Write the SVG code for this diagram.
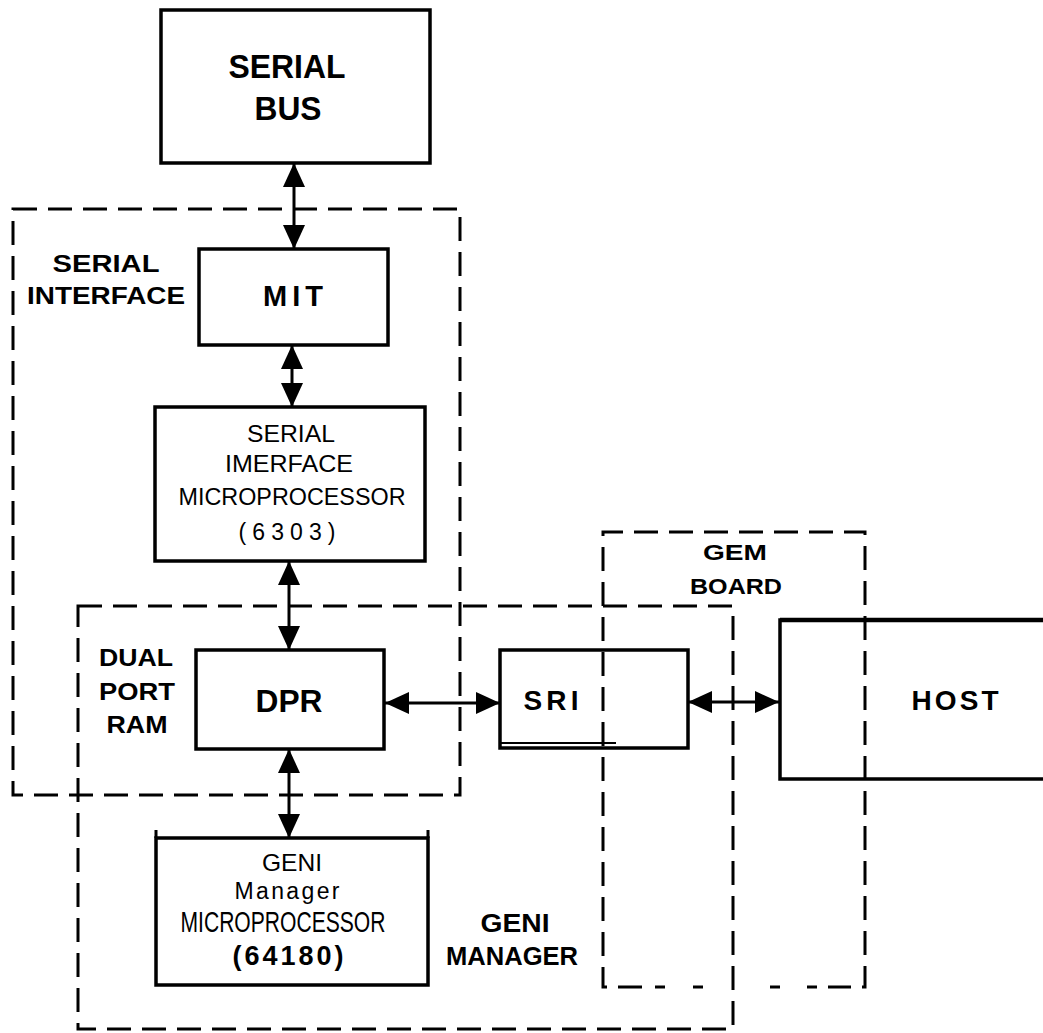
<svg xmlns="http://www.w3.org/2000/svg" width="1043" height="1033" viewBox="0 0 1043 1033">
<defs>
<style>
.box{fill:none;stroke:#000;stroke-width:3.5}
.grp{fill:none;stroke:#000;stroke-width:3;stroke-dasharray:24 11}
.conn{fill:none;stroke:#000;stroke-width:3}
.b{font-family:"Liberation Sans",Arial,sans-serif;font-weight:bold;fill:#000;text-anchor:middle}
.r{font-family:"Liberation Sans",Arial,sans-serif;fill:#000;text-anchor:middle}
</style>
<marker id="ah" viewBox="0 0 24 22" refX="24" refY="11" markerWidth="24" markerHeight="22" markerUnits="userSpaceOnUse" orient="auto-start-reverse">
<path d="M0,0 L24,11 L0,22 Z" fill="#000"/>
</marker>
</defs>
<rect width="1043" height="1033" fill="#fff"/>

<g id="group-serial-interface">
<rect class="grp" x="13" y="209" width="447" height="586"/>
<text class="b" x="106" y="272" font-size="23" textLength="107" lengthAdjust="spacingAndGlyphs">SERIAL</text>
<text class="b" x="106" y="304" font-size="23" textLength="158" lengthAdjust="spacingAndGlyphs">INTERFACE</text>
</g>

<g id="group-geni-manager">
<rect class="grp" x="78" y="606" width="655" height="423"/>
<text class="b" x="515" y="932" font-size="26" textLength="69" lengthAdjust="spacingAndGlyphs">GENI</text>
<text class="b" x="512" y="965" font-size="26" textLength="132" lengthAdjust="spacingAndGlyphs">MANAGER</text>
</g>

<g id="group-gem-board">
<path class="grp" d="M642,987 L603,987 L603,532 L865,532 L865,987 L828,987"/>
<path class="conn" d="M655,987 h10 M693,987 h10 M770,987 h10 M807,987 h10"/>
<text class="b" x="735" y="560" font-size="22" textLength="64" lengthAdjust="spacingAndGlyphs">GEM</text>
<text class="b" x="736" y="594" font-size="22" textLength="92" lengthAdjust="spacingAndGlyphs">BOARD</text>
</g>

<g id="serial-bus">
<rect class="box" x="161" y="10" width="269" height="153"/>
<text class="b" x="287" y="78" font-size="33" textLength="117" lengthAdjust="spacingAndGlyphs">SERIAL</text>
<text class="b" x="288" y="120" font-size="33" textLength="67" lengthAdjust="spacingAndGlyphs">BUS</text>
</g>

<g id="mit">
<rect class="box" x="199" y="249" width="189" height="96"/>
<text class="b" x="293" y="306" font-size="29" textLength="60" lengthAdjust="spacing">MIT</text>
</g>

<g id="serial-interface-microprocessor">
<rect class="box" x="155" y="407" width="270" height="154"/>
<text class="r" x="291" y="442" font-size="23" textLength="88" lengthAdjust="spacingAndGlyphs">SERIAL</text>
<text class="r" x="289" y="472" font-size="23" textLength="128" lengthAdjust="spacingAndGlyphs">IMERFACE</text>
<text class="r" x="292" y="505" font-size="23" textLength="227" lengthAdjust="spacingAndGlyphs">MICROPROCESSOR</text>
<text class="r" x="287" y="540" font-size="23" textLength="97" lengthAdjust="spacing">(6303)</text>
</g>

<g id="dpr">
<rect class="box" x="196" y="650" width="188" height="99"/>
<text class="b" x="289" y="712" font-size="31" textLength="67" lengthAdjust="spacingAndGlyphs">DPR</text>
<text class="b" x="136" y="666" font-size="24" textLength="74" lengthAdjust="spacingAndGlyphs">DUAL</text>
<text class="b" x="137" y="700" font-size="24" textLength="76" lengthAdjust="spacingAndGlyphs">PORT</text>
<text class="b" x="137" y="733" font-size="24" textLength="61" lengthAdjust="spacingAndGlyphs">RAM</text>
</g>

<g id="sri">
<rect class="box" x="500" y="650" width="188" height="98"/>
<line x1="500" y1="743" x2="616" y2="743" stroke="#000" stroke-width="2"/>
<text class="b" x="551" y="710" font-size="28" textLength="55" lengthAdjust="spacing">SRI</text>
</g>

<g id="host">
<path class="box" d="M1043,620 L780,620 L780,779 L1043,779"/>
<line x1="780" y1="620" x2="1043" y2="620" stroke="#000" stroke-width="4.5"/>
<text class="b" x="955" y="710" font-size="28" textLength="87" lengthAdjust="spacing">HOST</text>
</g>

<g id="geni-manager-microprocessor">
<rect class="box" x="156" y="838" width="272" height="147"/>
<path class="conn" d="M156,830 V838 M428,830 V838"/>
<text class="r" x="292" y="871" font-size="24" textLength="60" lengthAdjust="spacingAndGlyphs">GENI</text>
<text class="r" x="287" y="899" font-size="23" textLength="105" lengthAdjust="spacing">Manager</text>
<text class="r" x="283" y="932" font-size="29" textLength="205" lengthAdjust="spacingAndGlyphs">MICROPROCESSOR</text>
<text class="b" x="288" y="965" font-size="27" textLength="111" lengthAdjust="spacing">(64180)</text>
</g>

<g id="connectors">
<line class="conn" x1="294" y1="163" x2="294" y2="249" marker-start="url(#ah)" marker-end="url(#ah)"/>
<line class="conn" x1="292" y1="345" x2="292" y2="407" marker-start="url(#ah)" marker-end="url(#ah)"/>
<line class="conn" x1="289" y1="561" x2="289" y2="650" marker-start="url(#ah)" marker-end="url(#ah)"/>
<line class="conn" x1="289" y1="749" x2="289" y2="838" marker-start="url(#ah)" marker-end="url(#ah)"/>
<line class="conn" x1="385" y1="703" x2="500" y2="703" marker-start="url(#ah)" marker-end="url(#ah)"/>
<line class="conn" x1="688" y1="702" x2="779" y2="702" marker-start="url(#ah)" marker-end="url(#ah)"/>
</g>
</svg>
